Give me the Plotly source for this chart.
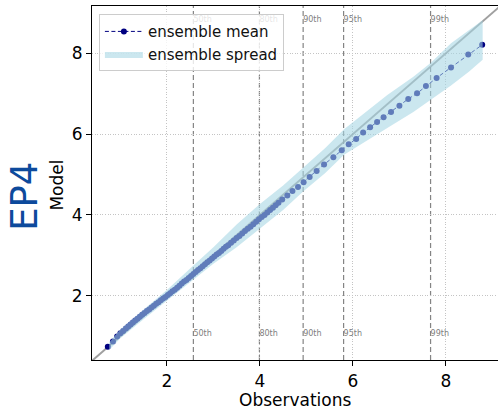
import plotly.graph_objects as go

# ---------------- data ----------------
mean_x = [0.73, 0.84, 0.93, 1.00, 1.06, 1.12, 1.17, 1.22, 1.27, 1.32, 1.37, 1.42, 1.47, 1.52,
          1.57, 1.62, 1.67, 1.72, 1.77, 1.82, 1.87, 1.92, 1.97, 2.02, 2.07, 2.12, 2.17, 2.22,
          2.27, 2.32, 2.37, 2.42, 2.47, 2.52, 2.57, 2.62, 2.67, 2.72, 2.77, 2.82, 2.87, 2.92,
          2.97, 3.02, 3.07, 3.12, 3.17, 3.22, 3.27, 3.32, 3.38, 3.44, 3.50, 3.56, 3.62, 3.68,
          3.74, 3.80, 3.86, 3.92, 3.98, 4.04, 4.10, 4.16, 4.22, 4.28, 4.34, 4.40, 4.48, 4.59,
          4.70, 4.82, 4.94, 5.07, 5.22, 5.38, 5.58, 5.76, 5.91, 6.07, 6.22, 6.37, 6.52, 6.66,
          6.82, 7.00, 7.19, 7.38, 7.57, 7.80, 8.11, 8.48, 8.78]
mean_y = [0.74, 0.87, 0.99, 1.07, 1.13, 1.19, 1.24, 1.29, 1.34, 1.39, 1.43, 1.48, 1.53, 1.57,
          1.62, 1.66, 1.71, 1.75, 1.80, 1.84, 1.89, 1.93, 1.97, 2.02, 2.06, 2.11, 2.15, 2.20,
          2.25, 2.30, 2.35, 2.39, 2.44, 2.49, 2.54, 2.59, 2.64, 2.68, 2.73, 2.78, 2.83, 2.87,
          2.92, 2.97, 3.02, 3.06, 3.11, 3.16, 3.21, 3.25, 3.31, 3.37, 3.43, 3.48, 3.54, 3.60,
          3.66, 3.71, 3.77, 3.83, 3.89, 3.95, 4.00, 4.06, 4.12, 4.18, 4.24, 4.30, 4.38, 4.48,
          4.59, 4.69, 4.81, 4.94, 5.09, 5.25, 5.43, 5.60, 5.75, 5.88, 6.04, 6.17, 6.30, 6.42,
          6.55, 6.70, 6.87, 7.01, 7.19, 7.39, 7.65, 7.97, 8.21]

spread_x = [0.76, 1.00, 1.50, 2.00, 2.57, 3.00, 3.50, 4.00, 4.50, 4.93, 5.40, 5.81, 6.30,
            6.74, 7.30, 7.67, 8.11, 8.50, 8.79]
spread_lo = [0.66, 0.95, 1.42, 1.88, 2.40, 2.79, 3.20, 3.66, 4.12, 4.58, 5.03, 5.49, 5.83,
             6.15, 6.55, 6.85, 7.20, 7.55, 7.84]
spread_hi = [0.84, 1.17, 1.66, 2.14, 2.75, 3.20, 3.76, 4.27, 4.73, 5.16, 5.65, 6.12, 6.58,
             6.97, 7.42, 7.76, 8.25, 8.58, 8.82]

pct_labels = ["50th", "80th", "90th", "95th", "99th"]
pct_values = [2.57, 3.99, 4.93, 5.80, 7.67]

axis_min, axis_max_x, axis_max_y = 0.39, 9.12, 9.17
label_y_top, label_y_bottom = 8.82, 1.05
ticks = [2, 4, 6, 8]

FONT = "DejaVu Sans"
fig = go.Figure()

# y = x reference line
diag = [axis_min, max(axis_max_x, axis_max_y)]
fig.add_trace(go.Scatter(x=diag, y=diag, mode="lines",
                         line=dict(color="rgba(128,128,128,0.75)", width=2),
                         showlegend=False, hoverinfo="skip"))

# ensemble mean
fig.add_trace(go.Scatter(x=mean_x, y=mean_y, mode="lines+markers", name="ensemble mean",
                         line=dict(color="#000080", width=1, dash="4px,2.5px"),
                         marker=dict(color="#000080", size=6), legendrank=1))

# ensemble spread
fig.add_trace(go.Scatter(x=spread_x + spread_x[::-1], y=spread_hi + spread_lo[::-1],
                         fill="toself", mode="lines", line=dict(width=0),
                         fillcolor="rgba(166,214,228,0.58)", name="ensemble spread",
                         legendrank=2, hoverinfo="skip"))

# percentile labels
fig.add_trace(go.Scatter(x=pct_values + pct_values,
                         y=[label_y_top] * len(pct_values) + [label_y_bottom] * len(pct_values),
                         mode="text", text=pct_labels + pct_labels, textposition="middle right",
                         textfont=dict(size=8, color="#808080", family=FONT),
                         showlegend=False, hoverinfo="skip", cliponaxis=False))

for p in pct_values:
    fig.add_shape(type="line", xref="x", yref="y domain", x0=p, x1=p, y0=0, y1=1,
                  line=dict(color="rgba(110,110,110,0.85)", width=1.2, dash="5px,3px"),
                  layer="below")

# side labels
fig.add_annotation(text="EP4", xref="paper", yref="paper", x=-0.165, y=0.461,
                   xanchor="center", yanchor="middle", textangle=-90, showarrow=False,
                   font=dict(size=37, color="#0d4a9c", family=FONT))
fig.add_annotation(text="Model", xref="paper", yref="paper", x=-0.086, y=0.493,
                   xanchor="center", yanchor="middle",
                   textangle=-90, showarrow=False, font=dict(size=17, color="black", family=FONT))
fig.add_annotation(text="Observations", xref="paper", yref="paper", x=0.5, y=-0.113,
                   xanchor="center", yanchor="middle",
                   showarrow=False, font=dict(size=17, color="black", family=FONT))

axis_common = dict(tickvals=ticks, ticks="outside", ticklen=5, tickwidth=1, tickcolor="black",
                   showline=True, linecolor="black", linewidth=1.2, showgrid=True,
                   gridcolor="#c4c4c4", gridwidth=0.8, griddash="1px,1.6px", zeroline=False,
                   tickfont=dict(size=17, color="black", family=FONT))

fig.update_xaxes(range=[axis_min, axis_max_x], mirror=True, **axis_common)
fig.update_yaxes(range=[axis_min + 0.02, axis_max_y], **axis_common)

fig.update_layout(width=498, height=409, margin=dict(l=92, r=0, t=6, b=49),
                  plot_bgcolor="white", paper_bgcolor="white",
                  font=dict(family=FONT),
                  legend=dict(x=0.017, y=0.977, xanchor="left", yanchor="top",
                              bgcolor="rgba(255,255,255,0.8)", bordercolor="#cccccc",
                              borderwidth=1, font=dict(size=15, color="#111", family=FONT),
                              tracegroupgap=0, itemwidth=38))

fig.write_html("out.html")
